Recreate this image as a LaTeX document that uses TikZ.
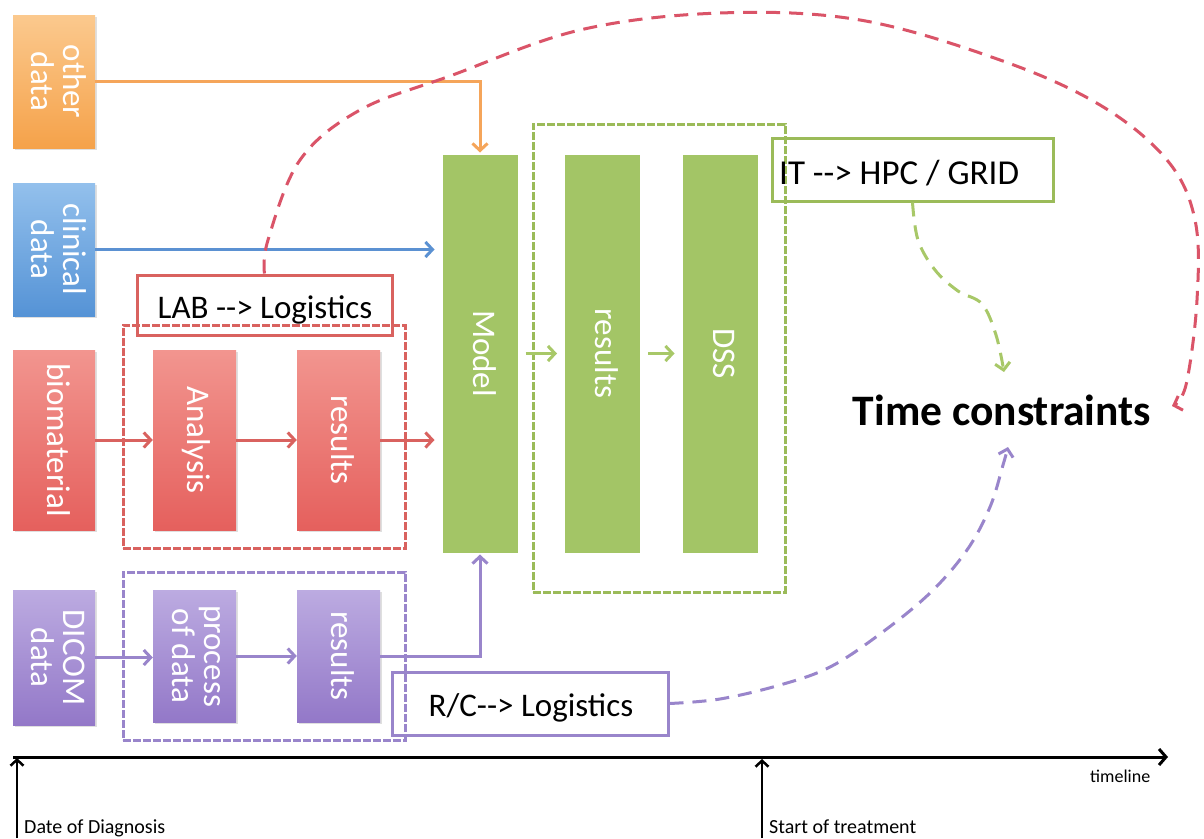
\documentclass[tikz,border=0pt]{standalone}
\usepackage{fontspec}
\setmainfont{Carlito}
\usetikzlibrary{arrows.meta,shadows}

\definecolor{oraT}{HTML}{FBC98E}\definecolor{oraB}{HTML}{F5A24A}\definecolor{oraL}{HTML}{F5A55A}
\definecolor{bluT}{HTML}{93C0EC}\definecolor{bluB}{HTML}{5593D6}\definecolor{bluL}{HTML}{5B91D2}
\definecolor{redT}{HTML}{F2958F}\definecolor{redB}{HTML}{E5605D}\definecolor{redL}{HTML}{D9625F}\definecolor{redC}{HTML}{DA5468}
\definecolor{purT}{HTML}{BCABE1}\definecolor{purB}{HTML}{9378C8}\definecolor{purL}{HTML}{9985CB}
\definecolor{grnF}{HTML}{A3C566}\definecolor{grnL}{HTML}{9BBB59}\definecolor{grnC}{HTML}{A8C868}

% vertical (top-to-bottom) text for the coloured blocks
\newcommand\vtext[1]{\rotatebox{-90}{\begin{tabular}{@{}c@{}}#1\end{tabular}}}

\begin{document}
\begin{tikzpicture}[x=1pt,y=-1pt,
  cbox/.style={rectangle, inner sep=0pt, text=white, font=\fontsize{33}{31}\selectfont,
    drop shadow={shadow xshift=2pt, shadow yshift=-2pt, opacity=0.25}},
  gbox/.style={cbox, fill=grnF, draw=white, line width=5pt, minimum width=80, minimum height=403},
  conn/.style={line width=3pt, -{Straight Barb[length=7pt, width=15pt]}},
  grp/.style={rectangle, draw, line width=3pt, dash pattern=on 8pt off 2pt, inner sep=0pt},
  lbox/.style={rectangle, draw, line width=3pt, inner sep=0pt},
  lbl/.style={font=\fontsize{33}{33}\selectfont, anchor=base, inner sep=0pt},
  small/.style={font=\fontsize{20}{20}\selectfont, anchor=base west, inner sep=0pt},
  dcurve/.style={line width=3pt, dash pattern=on 14pt off 9pt, -{Straight Barb[length=7pt, width=15pt]}},
]
\fill[white] (0,0) rectangle (1204,838);
\useasboundingbox (0,0) rectangle (1204,838);

% dashed group frames
\node[grp, draw=redL, minimum width=282, minimum height=223] (labgrp) at (264,436.5) {};
\node[grp, draw=purL, minimum width=282, minimum height=168] (rcgrp) at (264,656) {};
\node[grp, draw=grnL, minimum width=252, minimum height=468] (itgrp) at (659,358) {};

% input blocks
\node[cbox, top color=oraT, bottom color=oraB, minimum width=82, minimum height=133] (other) at (54,81.5) {\vtext{other\\data}};
\node[cbox, top color=bluT, bottom color=bluB, minimum width=82, minimum height=133] (clinical) at (54,249.5) {\vtext{clinical\\data}};
\node[cbox, top color=redT, bottom color=redB, minimum width=82, minimum height=180] (bio) at (54,440) {\vtext{biomaterial}};
\node[cbox, top color=purT, bottom color=purB, minimum width=82, minimum height=135] (dicom) at (54,657.5) {\vtext{DICOM\\data}};

% processing blocks
\node[cbox, top color=redT, bottom color=redB, minimum width=83, minimum height=180] (analysis) at (194.5,440) {\vtext{Analysis}};
\node[cbox, top color=redT, bottom color=redB, minimum width=83, minimum height=180] (resr) at (338.5,440) {\vtext{results}};
\node[cbox, top color=purT, bottom color=purB, minimum width=83, minimum height=132] (proc) at (194.5,656) {\vtext{process\\of data}};
\node[cbox, top color=purT, bottom color=purB, minimum width=83, minimum height=132] (resp) at (338.5,656) {\vtext{results}};

% model chain
\node[gbox] (model) at (480,353.5) {\vtext{Model}};
\node[gbox] (resg) at (602.5,353.5) {\vtext{results}};
\node[gbox] (dss) at (720,353.5) {\vtext{DSS}};

% connectors
\draw[conn, oraL] (other.east) -| ([yshift=-3pt]model.north);
\draw[conn, bluL] (clinical.east) -- ([xshift=-3pt]clinical.east -| model.west);
\draw[conn, redL] (bio.east) -- (analysis.west);
\draw[conn, redL] (analysis.east) -- (resr.west);
\draw[conn, redL] (resr.east) -- ([xshift=-3pt]resr.east -| model.west);
\draw[conn, purL] (dicom.east) -- (dicom.east -| proc.west);
\draw[conn, purL] (proc.east) -- (resp.west);
\draw[conn, purL] (resp.east) -| ([yshift=3pt]model.south);
\draw[conn, grnC] ([xshift=3pt]model.east) -- ([xshift=-3pt]resg.west);
\draw[conn, grnC] ([xshift=3pt]resg.east) -- ([xshift=-3pt]dss.west);

% logistics labels
\node[lbox, draw=redL, minimum width=255, minimum height=60] (lab) at (264.5,305) {};
\node[lbl] (labt) at (265,318) {LAB -{}-> Logistics};
\node[lbox, draw=grnL, minimum width=281, minimum height=63] (it) at (912.5,169.5) {};
\node[lbl, anchor=base west, font=\fontsize{35}{35}\selectfont] (itt) at (779,184) {IT -{}-> HPC / GRID};
\node[lbox, draw=purL, minimum width=276, minimum height=63] (rc) at (530,703.5) {};
\node[lbl] (rct) at (531,716) {R/C-{}-> Logistics};

% central message
\node[font=\fontsize{43.5}{43.5}\selectfont\bfseries, anchor=base, inner sep=0pt] (tc) at (1002,425) {Time constraints};
\coordinate (tcR) at (1172,406);
\coordinate (tcN) at (1004,372);
\coordinate (tcS) at (1008,447);

% dashed links to the time constraints
\draw[dcurve, redC] plot[smooth, tension=0.6] coordinates {(lab.north) (268,240) (300,160) (360,110) (450,76) (580,30) (720,13) (860,20) (1000,60) (1100,105) (1167,160) (1195,220) (1197,300) (1186,385) (tcR)};
\draw[dcurve, grnC] plot[smooth, tension=0.6] coordinates {(it.south) (918,240) (935,270) (958,291) (982,304) (996,335) (tcN)};
\draw[dcurve, purL] plot[smooth, tension=0.6] coordinates {(rc.east) (720,699) (780,685) (830,667) (880,634) (930,593) (967,550) (990,507) (1003,465) (tcS)};

% timeline
\coordinate (tl0) at (13,757);
\coordinate (tl1) at (1168,757);
\draw[line width=3pt, -{Straight Barb[length=7pt, width=16pt]}] (tl0) -- (tl1);
\node[small, font=\fontsize{18}{18}\selectfont] (tll) at (1090,782) {timeline};

\coordinate (dd0) at (17,838);
\coordinate (dd1) at (17,758);
\draw[line width=2.5pt, -{Straight Barb[length=6pt, width=13pt]}] (dd0) -- (dd1);
\node[small] (ddt) at (24,833) {Date of Diagnosis};

\coordinate (st0) at (762,838);
\coordinate (st1) at (762,759);
\draw[line width=2.5pt, -{Straight Barb[length=6pt, width=13pt]}] (st0) -- (st1);
\node[small] (stt) at (769,833) {Start of treatment};
\end{tikzpicture}
\end{document}
